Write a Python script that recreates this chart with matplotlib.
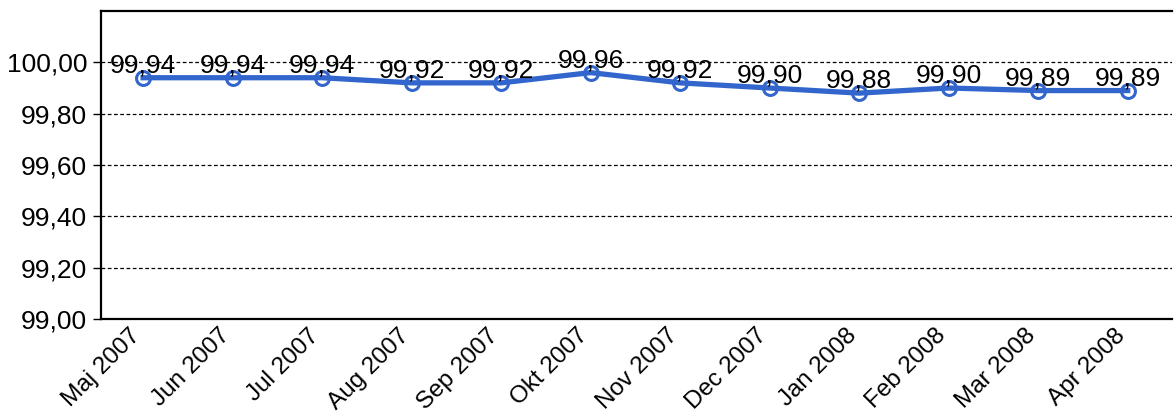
import matplotlib
matplotlib.use('Agg')
import matplotlib.pyplot as plt
import matplotlib.transforms as mtransforms
from matplotlib.ticker import FuncFormatter

months = ['Maj 2007', 'Jun 2007', 'Jul 2007', 'Aug 2007', 'Sep 2007', 'Okt 2007',
          'Nov 2007', 'Dec 2007', 'Jan 2008', 'Feb 2008', 'Mar 2008', 'Apr 2008']
values = [99.94, 99.94, 99.94, 99.92, 99.92, 99.96, 99.92, 99.90, 99.88, 99.90, 99.89, 99.89]
labels = ['99,94', '99,94', '99,94', '99,92', '99,92', '99,96', '99,92', '99,90', '99,88', '99,90', '99,89', '99,89']
yticks = [99.0, 99.2, 99.4, 99.6, 99.8, 100.0]

plt.rcParams['font.family'] = ['Liberation Sans', 'DejaVu Sans']

fig = plt.figure(figsize=(11.76, 4.18), dpi=100)
ax = fig.add_axes([0.0859, 0.2368, 0.9111, 0.7369])

color = '#3366cc'
x = list(range(len(months)))
ax.plot(x, values, color=color, lw=3.8, marker='o', ms=10, mfc='none', mec=color, mew=2.2, zorder=3)

for xi, v, lab in zip(x, values, labels):
    ax.annotate(lab, (xi, v), xytext=(0, 4), textcoords='offset points',
                ha='center', va='baseline', fontsize=19, color='black', zorder=4)

ax.set_xlim(-0.47, 11.5)
ax.set_ylim(99.0, 100.2)
ax.set_yticks(yticks)
ax.yaxis.set_major_formatter(FuncFormatter(lambda v, p: ('%.2f' % v).replace('.', ',')))
ax.set_xticks(x)
ax.set_xticklabels(months, rotation=45, ha='right', rotation_mode='anchor', fontsize=17.5)
ax.tick_params(axis='x', length=0, pad=4)
ax.tick_params(axis='y', length=6, width=1, labelsize=19, pad=4, direction='out')

shift = mtransforms.ScaledTranslation(-14 / 100, 0, fig.dpi_scale_trans)
for t in ax.get_xticklabels():
    t.set_transform(t.get_transform() + shift)

for v in yticks[1:]:
    ax.axhline(v, color='black', lw=0.9, ls=(0, (3, 2)), zorder=1)

ax.spines['right'].set_visible(False)
for s in ['left', 'top', 'bottom']:
    ax.spines[s].set_linewidth(1.6)
    ax.spines[s].set_color('black')

fig.savefig('out.png', dpi=100)
